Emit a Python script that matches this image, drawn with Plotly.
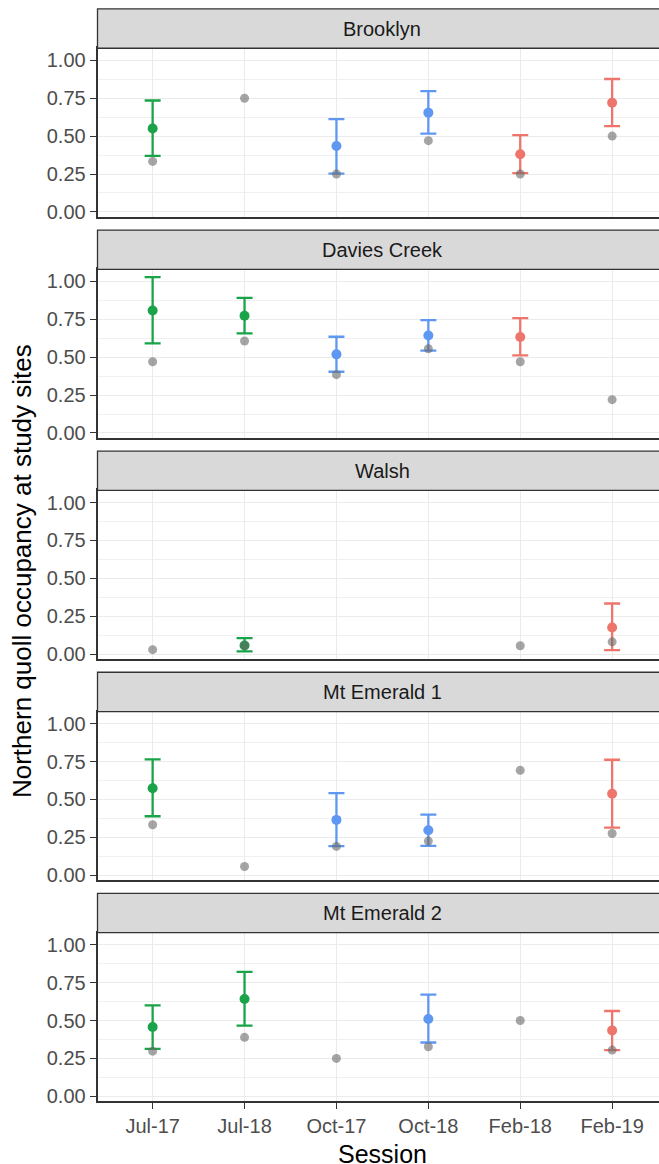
import plotly.graph_objects as go
from plotly.subplots import make_subplots

# ---- data -------------------------------------------------------------
sessions = ["Jul-17", "Jul-18", "Oct-17", "Oct-18", "Feb-18", "Feb-19"]
sites = ["Brooklyn", "Davies Creek", "Walsh", "Mt Emerald 1", "Mt Emerald 2"]

# modelled occupancy estimate, lower / upper confidence limits, naive occupancy
brooklyn_est = [0.55, None, 0.435, 0.655, 0.38, 0.72]
brooklyn_lo = [0.37, None, 0.252, 0.517, 0.256, 0.566]
brooklyn_hi = [0.735, None, 0.612, 0.797, 0.506, 0.877]
brooklyn_naive = [0.333, 0.75, 0.25, 0.47, 0.25, 0.5]

davies_est = [0.809, 0.774, 0.519, 0.644, 0.633, None]
davies_lo = [0.591, 0.657, 0.404, 0.543, 0.512, None]
davies_hi = [1.029, 0.892, 0.635, 0.745, 0.758, None]
davies_naive = [0.47, 0.607, 0.385, 0.556, 0.47, 0.22]

walsh_est = [None, 0.057, None, None, None, 0.176]
walsh_lo = [None, 0.018, None, None, None, 0.026]
walsh_hi = [None, 0.105, None, None, None, 0.334]
walsh_naive = [0.029, 0.057, None, None, 0.055, 0.081]

emerald1_est = [0.574, None, 0.365, 0.297, None, 0.537]
emerald1_lo = [0.389, None, 0.192, 0.194, None, 0.314]
emerald1_hi = [0.764, None, 0.541, 0.4, None, 0.762]
emerald1_naive = [0.333, 0.057, 0.19, 0.225, 0.692, 0.275]

emerald2_est = [0.457, 0.642, None, 0.51, None, 0.435]
emerald2_lo = [0.313, 0.466, None, 0.355, None, 0.305]
emerald2_hi = [0.6, 0.821, None, 0.671, None, 0.563]
emerald2_naive = [0.298, 0.389, 0.25, 0.327, 0.5, 0.305]

site_data = [
    (brooklyn_est, brooklyn_lo, brooklyn_hi, brooklyn_naive),
    (davies_est, davies_lo, davies_hi, davies_naive),
    (walsh_est, walsh_lo, walsh_hi, walsh_naive),
    (emerald1_est, emerald1_lo, emerald1_hi, emerald1_naive),
    (emerald2_est, emerald2_lo, emerald2_hi, emerald2_naive),
]

season_colors = {"Jul": "#1AA348", "Oct": "#5E98F2", "Feb": "#EE756B"}
naive_color = "rgba(105,105,105,0.6)"

# ---- geometry (pixels) ------------------------------------------------
W, H = 659, 1164
left_px = 97.5
strip_top0 = 9.0
period = 222.25
strip_h = 39.5
panel_h = 169.5
font_family = "Liberation Sans, Arial, Helvetica, sans-serif"

fig = make_subplots(rows=5, cols=1)

for i, (est, lo, hi, naive) in enumerate(site_data):
    row = i + 1
    for season, color in season_colors.items():
        idx = [k for k, s in enumerate(sessions)
               if s.startswith(season) and est[k] is not None]
        if not idx:
            continue
        fig.add_trace(go.Scatter(
            x=[sessions[k] for k in idx],
            y=[est[k] for k in idx],
            mode="markers",
            marker=dict(color=color, size=10),
            error_y=dict(type="data", symmetric=False,
                         array=[hi[k] - est[k] for k in idx],
                         arrayminus=[est[k] - lo[k] for k in idx],
                         color=color, thickness=2.3, width=8),
            showlegend=False, hoverinfo="x+y",
        ), row=row, col=1)
    nidx = [k for k in range(len(sessions)) if naive[k] is not None]
    fig.add_trace(go.Scatter(
        x=[sessions[k] for k in nidx],
        y=[naive[k] for k in nidx],
        mode="markers",
        marker=dict(color=naive_color, size=9),
        showlegend=False, hoverinfo="x+y",
    ), row=row, col=1)

x_right = -0.6 + (W - left_px) / ((612.0 - 152.5) / 5)

layout_updates = {}
shapes = []
annotations = []
for i, name in enumerate(sites):
    sfx = "" if i == 0 else str(i + 1)
    s_top = strip_top0 + i * period
    p_top = s_top + strip_h
    p_bot = p_top + panel_h
    last = i == len(sites) - 1
    layout_updates["xaxis" + sfx] = dict(
        domain=[left_px / W, 1],
        type="category", categoryorder="array", categoryarray=sessions,
        range=[-0.6, x_right],
        showgrid=True, gridcolor="#EBEBEB", gridwidth=1.2,
        showline=True, mirror=True, linecolor="#333333", linewidth=1.6,
        zeroline=False,
        ticks="outside" if last else "", ticklen=6, tickwidth=1.4,
        tickcolor="#333333",
        showticklabels=last,
        tickfont=dict(size=20, color="#4D4D4D", family=font_family),
    )
    layout_updates["yaxis" + sfx] = dict(
        domain=[1 - p_bot / H, 1 - p_top / H],
        range=[-0.033, 1.08],
        tickmode="linear", tick0=0, dtick=0.25, tickformat=".2f",
        showgrid=True, gridcolor="#EBEBEB", gridwidth=1.2,
        minor=dict(tick0=0.125, dtick=0.25, showgrid=True,
                   gridcolor="#F0F0F0", gridwidth=0.7),
        showline=True, mirror=False, linecolor="#333333", linewidth=1.6,
        zeroline=False,
        ticks="outside", ticklen=6, tickwidth=1.4, tickcolor="#333333",
        tickfont=dict(size=20, color="#4D4D4D", family=font_family),
    )
    # facet strip
    shapes.append(dict(
        type="rect", xref="paper", yref="paper",
        x0=left_px / W, x1=1.02,
        y0=1 - p_top / H, y1=1 - s_top / H,
        fillcolor="#D9D9D9", line=dict(color="#333333", width=1.3),
        layer="above",
    ))
    annotations.append(dict(
        text=name, xref="paper", yref="paper",
        x=(left_px + 667) / 2 / W, y=1 - (s_top + strip_h / 2) / H,
        xanchor="center", yanchor="middle", showarrow=False,
        font=dict(size=20, color="#1A1A1A", family=font_family),
    ))

annotations.append(dict(
    text="Northern quoll occupancy at study sites", xref="paper", yref="paper",
    x=22 / W, y=1 - 574 / H, xanchor="center", yanchor="middle",
    textangle=-90, showarrow=False,
    font=dict(size=26, color="#000000", family=font_family),
))
annotations.append(dict(
    text="Session", xref="paper", yref="paper",
    x=382 / W, y=1 - 1160 / H, xanchor="center", yanchor="middle",
    showarrow=False,
    font=dict(size=25, color="#000000", family=font_family),
))

fig.update_layout(**layout_updates)
fig.update_layout(
    width=W, height=H, autosize=False,
    margin=dict(l=0, r=0, t=0, b=0),
    paper_bgcolor="white", plot_bgcolor="white",
    shapes=shapes, annotations=annotations,
    font=dict(family=font_family),
)

fig.write_html("out.html")
